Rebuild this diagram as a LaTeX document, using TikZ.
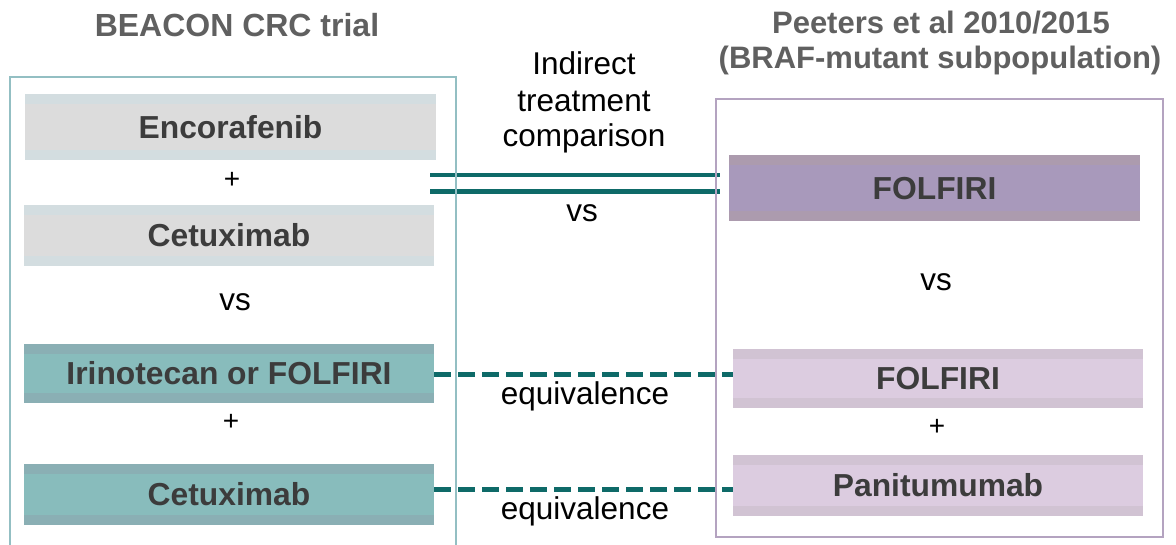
\documentclass[tikz,border=0pt]{standalone}
\usepackage{fontspec}
\setmainfont{Liberation Sans}
\usetikzlibrary{backgrounds}

\definecolor{framel}{HTML}{93BFC3}
\definecolor{framer}{HTML}{B4A3C0}
\definecolor{linkcol}{HTML}{0E6A68}
\definecolor{grayfill}{HTML}{DCDCDC}
\definecolor{graystrip}{HTML}{D3DDE0}
\definecolor{tealfill}{HTML}{88BCBC}
\definecolor{tealstrip}{HTML}{8AAFB4}
\definecolor{purpfill}{HTML}{A899BB}
\definecolor{purpstrip}{HTML}{AC9BAE}
\definecolor{pinkfill}{HTML}{DCCCE0}
\definecolor{pinkstrip}{HTML}{D1C3D3}
\definecolor{boxtext}{HTML}{3C3C3C}
\definecolor{titletext}{HTML}{606060}

\tikzset{
  drugbox/.style 2 args={fill=#1, text=boxtext,
    font=\fontsize{31.8}{36}\selectfont\bfseries,
    text height=22.8pt, text depth=0pt, inner sep=0pt,
    minimum width=410pt,
    path picture={
      \fill[#2] (path picture bounding box.north west) rectangle
        ([yshift=-10pt]path picture bounding box.north east);
      \fill[#2] (path picture bounding box.south west) rectangle
        ([yshift=10pt]path picture bounding box.south east);
    }},
  graybox/.style={drugbox={grayfill}{graystrip}},
  tealbox/.style={drugbox={tealfill}{tealstrip}},
  purpbox/.style={drugbox={purpfill}{purpstrip}},
  pinkbox/.style={drugbox={pinkfill}{pinkstrip}},
  titlebig/.style={anchor=base, inner sep=0pt, text=titletext,
    font=\fontsize{32}{38}\selectfont\bfseries},
  titlesmall/.style={anchor=base, inner sep=0pt, text=titletext,
    font=\fontsize{31}{36}\selectfont\bfseries},
  plain/.style={anchor=base, inner sep=0pt, text=black,
    font=\fontsize{31.5}{37}\selectfont},
  plus/.style={inner sep=0pt, text=black,
    font=\fontsize{28}{34}\selectfont},
  solidlink/.style={draw=linkcol, line width=4.8pt},
  dashlink/.style={draw=linkcol, line width=5pt,
    dash pattern=on 17pt off 7pt},
}

\begin{document}
\begin{tikzpicture}[x=1pt, y=-1pt]
\useasboundingbox (0,0) rectangle (1176,545);

% column headings
\node[titlebig] (beacon) at (237,37) {BEACON CRC trial};
\node[titlesmall] (peeters) at (941,34) {Peeters et al 2010/2015};
\node[titlesmall] (braf) at (940,69) {(BRAF-mutant subpopulation)};

% BEACON arms
\node[graybox, minimum width=411pt, minimum height=66pt] (enco) at (230.5,127) {Encorafenib};
\node[plus] (plusA) at (232,180) {+};
\node[graybox, minimum height=61pt] (cetuxA) at (229,235.5) {Cetuximab};
\node[plain] (vsL) at (235,311) {vs};
\node[tealbox, minimum height=59pt] (irino) at (229,373.5) {Irinotecan or FOLFIRI};
\node[plus] (plusB) at (231,422) {+};
\node[tealbox, minimum height=61pt] (cetuxB) at (229,494.5) {Cetuximab};

% Peeters arms
\node[purpbox, minimum width=411pt, minimum height=66pt] (folA) at (934.5,188) {FOLFIRI};
\node[plain] (vsR) at (936,291) {vs};
\node[pinkbox, minimum height=59pt] (folB) at (938,378.5) {FOLFIRI};
\node[plus] (plusC) at (937,427) {+};
\node[pinkbox, minimum height=61pt] (panit) at (938,485.5) {Panitumumab};

% labels between the columns
\node[plain] (ind1) at (584,75) {Indirect};
\node[plain] (ind2) at (584,112) {treatment};
\node[plain] (ind3) at (584,147) {comparison};
\node[plain] (vsM) at (582,222) {vs};
\node[plain] (eqA) at (585,405) {equivalence};
\node[plain] (eqB) at (585,519) {equivalence};

% connector end points
\coordinate (dblL) at (430,183.5);
\coordinate (dblR) at (720,183.5);
\coordinate (eqAend) at (733,375);
\coordinate (eqBend) at (733,489);

\begin{scope}[on background layer]
  % indirect comparison (double rule)
  \draw[solidlink] ([yshift=8.5pt]dblL) -- ([yshift=8.5pt]dblR);
  \draw[solidlink] ([yshift=-8pt]dblL) -- ([yshift=-8pt]dblR);
  % equivalence links
  \draw[dashlink] ([yshift=-1.5pt]irino.east) -- (eqAend);
  \draw[dashlink] ([yshift=5.5pt]cetuxB.east) -- (eqBend);
  % study frames
  \draw[framel, line width=2pt] (10,548) -- (10,77) -- (456,77) -- (456,548);
  \draw[framer, line width=2.5pt] (716,99) rectangle (1163,537);
\end{scope}
\end{tikzpicture}
\end{document}
